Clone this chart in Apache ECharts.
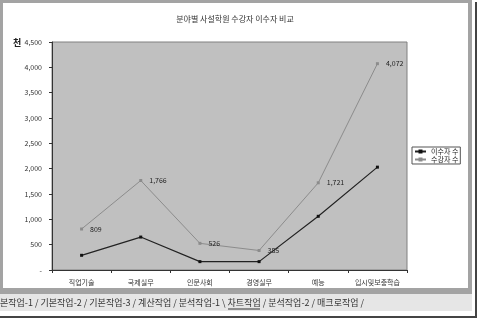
<!DOCTYPE html>
<html><head><meta charset="utf-8">
<script src="https://cdn.jsdelivr.net/npm/echarts@6/dist/echarts.min.js"></script>
<style>html,body{margin:0;padding:0;background:#fff}#c{width:480px;height:321px}</style>
</head><body><div id="c"></div>
<script>
var categories = ['직업기술','국제실무','인문사회','경영실무','예능','입시및보충학습'];
var completers = [290, 650, 165, 165, 1060, 2030];
var enrollees = [809, 1766, 526, 385, 1721, 4072];
var seriesNames = ['이수자 수','수강자 수'];
var titleText = '분야별 사설학원 수강자 이수자 비교';
var unitText = '천';
var tabText = '본작업-1 / 기본작업-2 / 기본작업-3 / 계산작업 / 분석작업-1 \\ 차트작업 / 분석작업-2 / 매크로작업 /';

var FONT = '"Noto Sans CJK KR", "Noto Sans", sans-serif';
var chart = echarts.init(document.getElementById('c'));
chart.setOption({
  animation: false,
  backgroundColor: '#fff',
  textStyle: {fontFamily: FONT},
  graphic: [
    {type:'rect', z:-10, shape:{x:0,y:0,width:472,height:294}, style:{fill:'#a3a3a3'}},
    {type:'rect', z:-9, shape:{x:3,y:3,width:465,height:285}, style:{fill:'#ffffff'}},
    {type:'rect', z:-9, shape:{x:0,y:294,width:472,height:17}, style:{fill:'#e6e6e6'}},
    {type:'rect', z:-9, shape:{x:475,y:2,width:2,height:316}, style:{fill:'#444'}},
    {type:'rect', z:-9, shape:{x:0,y:316,width:477,height:2}, style:{fill:'#444'}},
    {type:'text', z:5, x:0, y:303, style:{text:tabText, font:'9px '+FONT, fill:'#333', textVerticalAlign:'middle'}},
    {type:'line', z:5, shape:{x1:228,y1:309,x2:260,y2:309}, style:{stroke:'#333', lineWidth:1}},
    {type:'text', z:5, x:13, y:38, style:{text:unitText, font:'bold 9px '+FONT, fill:'#222'}},
    {type:'text', z:5, x:235, y:19, style:{text:titleText, font:'8px '+FONT, fill:'#333', textAlign:'center', textVerticalAlign:'middle'}}
  ],
  legend: {
    orient:'vertical', left: 412, top: 147, itemWidth: 11, itemHeight: 5, itemGap: 1,
    padding:[1,2,1,2], backgroundColor:'#fff', borderColor:'#555', borderWidth:1,
    textStyle:{fontSize:7, color:'#222', fontFamily: FONT},
    data: seriesNames
  },
  grid: {left:52, top:42, width:355, height:228, show:true, backgroundColor:'#c0c0c0', borderColor:'#808080', borderWidth:1},
  xAxis: {
    type:'category', data: categories, boundaryGap: true,
    axisLine:{lineStyle:{color:'#333', width:1}},
    axisTick:{show:true, length:3, inside:false, lineStyle:{color:'#333'}},
    axisLabel:{fontSize:7, color:'#333', margin:9, interval:0}
  },
  yAxis: {
    type:'value', min:0, max:4500, interval:500,
    axisLine:{show:true, lineStyle:{color:'#333'}},
    axisTick:{show:true, length:3, lineStyle:{color:'#333'}},
    splitLine:{show:false},
    axisLabel:{fontSize:7, color:'#333', margin:10, formatter:function(v){return v===0?'-':v.toLocaleString('en-US');}}
  },
  series: [
    {name: seriesNames[0], type:'line', data: completers, symbol:'rect', symbolSize:3,
     itemStyle:{color:'#111'}, lineStyle:{color:'#222', width:1.2}},
    {name: seriesNames[1], type:'line', data: enrollees, symbol:'rect', symbolSize:3,
     itemStyle:{color:'#8c8c8c'}, lineStyle:{color:'#8c8c8c', width:1},
     label:{show:true, position:'right', distance:7, fontSize:7, color:'#222',
       formatter:function(p){return p.value.toLocaleString('en-US');}}}
  ]
});
</script></body></html>
